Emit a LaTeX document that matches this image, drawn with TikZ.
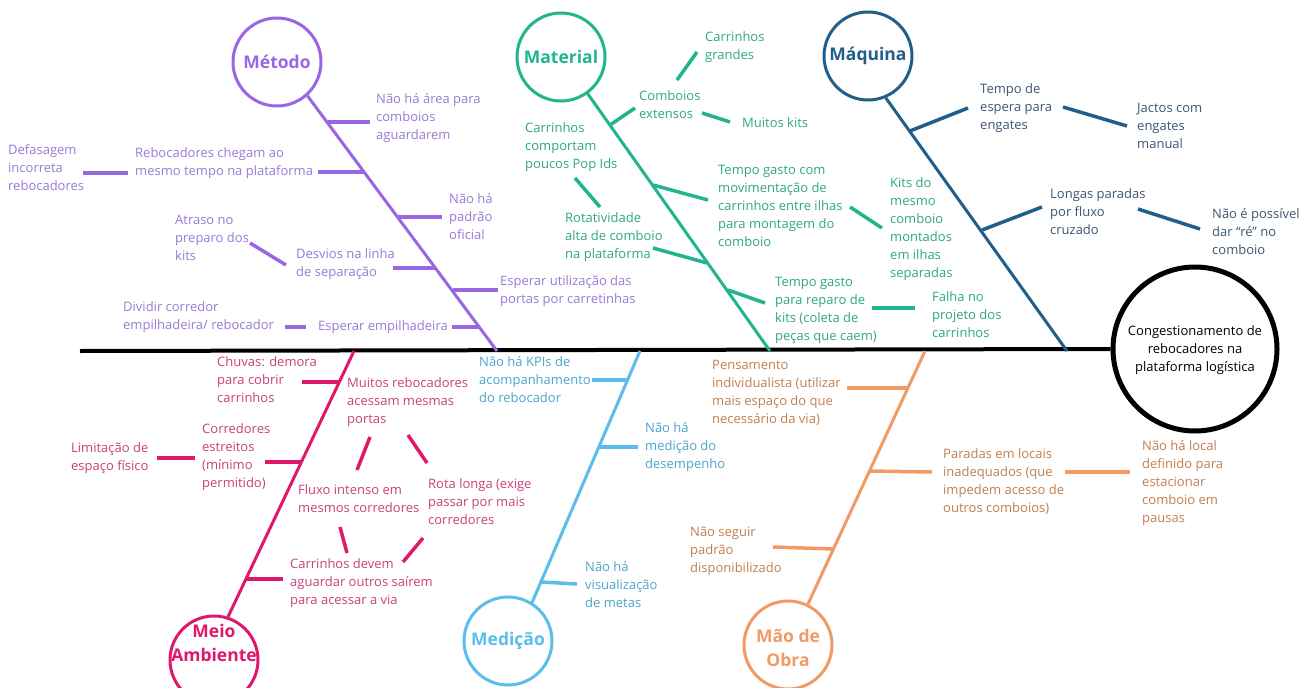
\documentclass[tikz,border=0pt]{standalone}
\usepackage{fontspec}
\setmainfont{Open Sans}
\definecolor{cMet}{HTML}{9966E6}
\definecolor{tMet}{HTML}{9A7AD6}
\definecolor{cMat}{HTML}{20B48F}
\definecolor{tMat}{HTML}{2FA880}
\definecolor{cMaq}{HTML}{1F5F8A}
\definecolor{tMaq}{HTML}{3E5670}
\definecolor{cMeio}{HTML}{E0186C}
\definecolor{tMeio}{HTML}{C8417E}
\definecolor{cMed}{HTML}{5BBDEB}
\definecolor{tMed}{HTML}{4AA6CC}
\definecolor{cMao}{HTML}{F19A63}
\definecolor{tMao}{HTML}{C27F4E}
\tikzset{
  txt/.style={inner sep=0pt, anchor=west, align=left, font=\fontsize{13}{18}\selectfont},
  cat/.style={circle, draw=#1, line width=3pt, minimum size=88pt, inner sep=0pt},
  cattxt/.style={inner sep=0pt, align=center, text=#1, font=\fontsize{17.5}{24}\selectfont\bfseries},
  bone/.style={draw=#1, line width=3pt},
  twig/.style={draw=#1, line width=3.5pt},
}
\begin{document}
\begin{tikzpicture}[x=1pt,y=-1pt]
\useasboundingbox (0,0) rectangle (1299,688);
\fill[white] (0,0) rectangle (1299,688);

% effect
\node[circle, draw=black, line width=5pt, minimum size=164pt, inner sep=0pt] (effect) at (1195,349) {};
\node[txt, anchor=center, align=center, text=black] (efftxt) at (1195,350) {Congestionamento de\\rebocadores na\\plataforma logística};
\coordinate (spineS) at (80,351);
\draw[line width=4pt, black] (spineS) -- (effect.west);

% category circles
\node[cat=cMet] (metodo) at (277,62) {};
\node[cattxt=cMet] (metodoT) at (metodo) {Método};
\node[cat=cMat] (material) at (561,57) {};
\node[cattxt=cMat] (materialT) at (material) {Material};
\node[cat=cMaq] (maquina) at (868,56) {};
\node[cattxt=cMaq] (maquinaT) at (maquina) {Máquina};
\node[cat=cMeio] (meio) at (214,660) {};
\node[cattxt=cMeio] (meioT) at (214,643) {Meio\\Ambiente};
\node[cat=cMed] (medicao) at (508,641) {};
\node[cattxt=cMed] (medicaoT) at (medicao) {Medição};
\node[cat=cMao, draw=cMao] (mao) at (788,645) {};
\node[cattxt=cMao] (maoT) at (788,648) {Mão de\\Obra};

% bone ends on spine
\coordinate (metE) at (497,351);
\coordinate (matE) at (770,351);
\coordinate (maqE) at (1067,351);
\coordinate (meioE) at (354,351);
\coordinate (medE) at (640,351);
\coordinate (maoE) at (925,351);

\draw[bone=cMet] (metodo.-48) -- (metE);
\draw[bone=cMat] (material.-54) -- (matE);
\draw[bone=cMaq] (maquina.-67) -- (maqE);
\draw[bone=cMeio] (meio.72) -- (meioE);
\draw[bone=cMed] (medicao.58) -- (medE);
\draw[bone=cMao] (mao.64) -- (maoE);

% ---------- Metodo ----------
\node[txt, text=tMet] (m1) at (376,118) {Não há área para\\comboios\\aguardarem};
\node[txt, text=tMet] (m2) at (135,163) {Rebocadores chegam ao\\mesmo tempo na plataforma};
\node[txt, text=tMet] (m2b) at (8,168) {Defasagem\\incorreta\\rebocadores};
\node[txt, text=tMet] (m3) at (449,217) {Não há\\padrão\\oficial};
\node[txt, text=tMet] (m4) at (296,264) {Desvios na linha\\de separação};
\node[txt, text=tMet] (m4b) at (175,238) {Atraso no\\preparo dos\\kits};
\node[txt, text=tMet] (m5) at (500,291) {Esperar utilização das\\portas por carretinhas};
\node[txt, text=tMet] (m6) at (318,327) {Esperar empilhadeira};
\node[txt, text=tMet] (m6b) at (123,317) {Dividir corredor\\empilhadeira/ rebocador};

\draw[twig=cMet] (328,122) coordinate (m1a) -- (370,122) coordinate (m1c);
\draw[twig=cMet] (364,172) coordinate (m2a) -- (318,172) coordinate (m2c);
\draw[twig=cMet] (128,173) coordinate (m2d) -- (83,173) coordinate (m2e);
\draw[twig=cMet] (398,217) coordinate (m3a) -- (442,217) coordinate (m3c);
\draw[twig=cMet] (436,268) coordinate (m4a) -- (393,268) coordinate (m4c);
\draw[twig=cMet] (286,265) coordinate (m4d) -- (250,243) coordinate (m4e);
\draw[twig=cMet] (453,290) coordinate (m5a) -- (498,290) coordinate (m5c);
\draw[twig=cMet] (480,327) coordinate (m6a) -- (452,327) coordinate (m6c);
\draw[twig=cMet] (306,327) coordinate (m6d) -- (285,327) coordinate (m6e);

% ---------- Material ----------
\node[txt, text=tMat] (t1) at (639,105) {Comboios\\extensos};
\node[txt, text=tMat] (t1a) at (705,47) {Carrinhos\\grandes};
\node[txt, text=tMat] (t1b) at (742,123) {Muitos kits};
\node[txt, text=tMat] (t2) at (525,147) {Carrinhos\\comportam\\poucos Pop Ids};
\node[txt, text=tMat] (t2b) at (565,237) {Rotatividade\\alta de comboio\\na plataforma};
\node[txt, text=tMat] (t3) at (718,206) {Tempo gasto com\\movimentação de\\carrinhos entre ilhas\\para montagem do\\comboio};
\node[txt, text=tMat] (t3b) at (890,229) {Kits do\\mesmo\\comboio\\montados\\em ilhas\\separadas};
\node[txt, text=tMat] (t4) at (775,310) {Tempo gasto\\para reparo de\\kits (coleta de\\peças que caem)};
\node[txt, text=tMat] (t4b) at (932,315) {Falha no\\projeto dos\\carrinhos};

\draw[twig=cMat] (610,125) coordinate (t1a1) -- (635,108) coordinate (t1a2);
\draw[twig=cMat] (677,80) coordinate (t1c1) -- (697,52) coordinate (t1c2);
\draw[twig=cMat] (702,113) coordinate (t1d1) -- (730,122) coordinate (t1d2);
\draw[twig=cMat] (575,178) coordinate (t2a1) -- (600,207) coordinate (t2a2);
\draw[twig=cMat] (653,248) coordinate (t2c1) -- (707,263) coordinate (t2c2);
\draw[twig=cMat] (653,185) coordinate (t3a1) -- (708,200) coordinate (t3a2);
\draw[twig=cMat] (850,207) coordinate (t3c1) -- (882,228) coordinate (t3c2);
\draw[twig=cMat] (728,290) coordinate (t4a1) -- (765,303) coordinate (t4a2);
\draw[twig=cMat] (872,308) coordinate (t4c1) -- (915,308) coordinate (t4c2);

% ---------- Maquina ----------
\node[txt, text=tMaq] (q1) at (980,108) {Tempo de\\espera para\\engates};
\node[txt, text=tMaq] (q1b) at (1137,126) {Jactos com\\engates\\manual};
\node[txt, text=tMaq] (q2) at (1050,212) {Longas paradas\\por fluxo\\cruzado};
\node[txt, text=tMaq] (q2b) at (1212,232) {Não é possível\\dar “ré” no\\comboio};

\draw[twig=cMaq] (910,131) coordinate (q1a1) -- (968,108) coordinate (q1a2);
\draw[twig=cMaq] (1063,107) coordinate (q1c1) -- (1127,126) coordinate (q1c2);
\draw[twig=cMaq] (982,230) coordinate (q2a1) -- (1042,207) coordinate (q2a2);
\draw[twig=cMaq] (1138,209) coordinate (q2c1) -- (1200,229) coordinate (q2c2);

% ---------- Meio Ambiente ----------
\node[txt, text=tMeio] (a1) at (217,380) {Chuvas: demora\\para cobrir\\carrinhos};
\node[txt, text=tMeio] (a2) at (347,402) {Muitos rebocadores\\acessam mesmas\\portas};
\node[txt, text=tMeio] (a3) at (202,457) {Corredores\\estreitos\\(mínimo\\permitido)};
\node[txt, text=tMeio] (a3b) at (71,458) {Limitação de\\espaço físico};
\node[txt, text=tMeio] (a4) at (298,499) {Fluxo intenso em\\mesmos corredores};
\node[txt, text=tMeio] (a5) at (428,502) {Rota longa (exige\\passar por mais\\corredores};
\node[txt, text=tMeio] (a6) at (290,583) {Carrinhos devem\\aguardar outros saírem\\para acessar a via};

\draw[twig=cMeio] (339,382) coordinate (a1a) -- (302,382) coordinate (a1c);
\draw[twig=cMeio] (301,462) coordinate (a3a) -- (265,462) coordinate (a3c);
\draw[twig=cMeio] (195,458) coordinate (a3d) -- (157,458) coordinate (a3e);
\draw[twig=cMeio] (245,579) coordinate (a6a) -- (283,579) coordinate (a6c);
\draw[twig=cMeio] (370,437) coordinate (x1) -- (357,470) coordinate (x2);
\draw[twig=cMeio] (408,435) coordinate (x3) -- (427,463) coordinate (x4);
\draw[twig=cMeio] (340,527) coordinate (x5) -- (347,553) coordinate (x6);
\draw[twig=cMeio] (423,538) coordinate (x7) -- (403,562) coordinate (x8);

% ---------- Medicao ----------
\node[txt, text=tMed] (d1) at (479,380) {Não há KPIs de\\acompanhamento\\do rebocador};
\node[txt, text=tMed] (d2) at (645,447) {Não há\\medição do\\desempenho};
\node[txt, text=tMed] (d3) at (585,585) {Não há\\visualização\\de metas};

\draw[twig=cMed] (628,380) coordinate (d1a) -- (592,380) coordinate (d1c);
\draw[twig=cMed] (600,447) coordinate (d2a) -- (638,447) coordinate (d2c);
\draw[twig=cMed] (541,582) coordinate (d3a) -- (577,584) coordinate (d3c);

% ---------- Mao de Obra ----------
\node[txt, text=tMao] (o1) at (712,393) {Pensamento\\individualista (utilizar\\mais espaço do que\\necessário da via)};
\node[txt, text=tMao] (o2) at (943,482) {Paradas em locais\\inadequados (que\\impedem acesso de\\outros comboios)};
\node[txt, text=tMao] (o2b) at (1142,483) {Não há local\\definido para\\estacionar\\comboio em\\pausas};
\node[txt, text=tMao] (o3) at (690,551) {Não seguir\\padrão\\disponibilizado};

\draw[twig=cMao] (847,388) coordinate (o1c) -- (908,388) coordinate (o1a);
\draw[twig=cMao] (869,471) coordinate (o2a) -- (932,472) coordinate (o2c);
\draw[twig=cMao] (1065,472) coordinate (o2d) -- (1130,472) coordinate (o2e);
\draw[twig=cMao] (773,547) coordinate (o3c) -- (833,549) coordinate (o3a);
\end{tikzpicture}
\end{document}
